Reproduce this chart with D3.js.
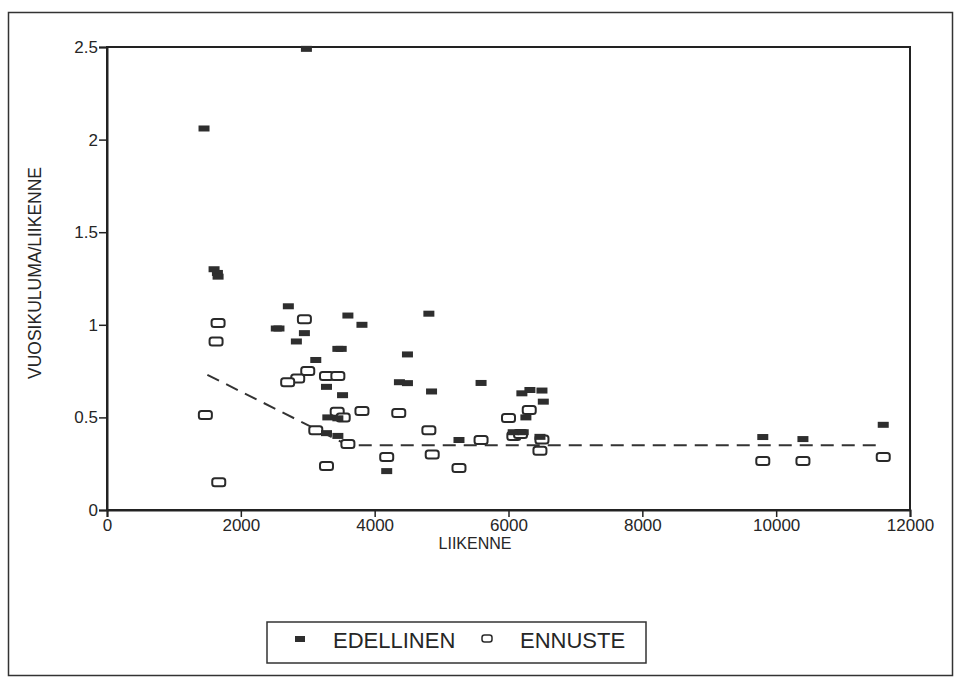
<!DOCTYPE html>
<html>
<head>
<meta charset="utf-8">
<script src="https://cdnjs.cloudflare.com/ajax/libs/d3/7.8.5/d3.min.js"></script>
<style>
    body { margin: 0; background: #fff; }
    .chart { width: 962px; height: 677px; }
    text { font-family: 'Liberation Sans', Arial, sans-serif; fill: #262626; }
</style>
</head>
<body>
<div class="chart"></div>
<script>
// edellinen = previous measurement, ennuste = forecast
const edellinen = [
    [1450, 2.06], [2980, 2.49], [1600, 1.30], [1650, 1.28], [1660, 1.26],
    [2710, 1.10], [2530, 0.98], [2570, 0.98], [2950, 0.955], [2830, 0.91],
    [3450, 0.87], [3500, 0.87], [3120, 0.81], [3600, 1.05], [3810, 1.00],
    [3280, 0.665], [3520, 0.62], [3300, 0.50], [3450, 0.495], [3280, 0.415],
    [3450, 0.40], [4180, 0.21], [4810, 1.06], [4490, 0.84], [4370, 0.69],
    [4490, 0.685], [4850, 0.64], [5590, 0.686], [5260, 0.378], [6200, 0.63],
    [6320, 0.648], [6500, 0.645], [6520, 0.585], [6260, 0.50], [6070, 0.42],
    [6220, 0.42], [6470, 0.395], [9800, 0.394], [10400, 0.383], [11600, 0.46]
];
const ennuste = [
    [1660, 1.01], [1630, 0.91], [1470, 0.513], [1670, 0.15], [2950, 1.03],
    [3000, 0.75], [2850, 0.71], [2700, 0.69], [3280, 0.723], [3450, 0.723],
    [3440, 0.53], [3530, 0.50], [3810, 0.535], [3120, 0.43], [3600, 0.356],
    [3280, 0.238], [4180, 0.286], [4360, 0.524], [4810, 0.43], [4860, 0.30],
    [5260, 0.227], [5590, 0.378], [6000, 0.497], [6310, 0.54], [6080, 0.40],
    [6180, 0.41], [6500, 0.38], [6470, 0.32], [9800, 0.265], [10400, 0.265],
    [11600, 0.286]
];
const trend = [[1500, 0.73], [3600, 0.35], [11560, 0.35]];
const xTicks = [0, 2000, 4000, 6000, 8000, 10000, 12000];
const yTicks = [0, 0.5, 1, 1.5, 2, 2.5];
const yTickLabels = ['0', '0.5', '1', '1.5', '2', '2.5'];

(function () {
    'use strict';

    const margin = { top: 47, left: 107, right: 52, bottom: 167 };
    const fullWidth = 962;
    const fullHeight = 677;
    const width = fullWidth - margin.left - margin.right;
    const height = fullHeight - margin.top - margin.bottom;

    const svg = d3.select('.chart').append('svg')
        .attr('width', fullWidth)
        .attr('height', fullHeight);

    // outer frame
    svg.append('rect')
        .attr('x', 8.5).attr('y', 12.5)
        .attr('width', 944).attr('height', 663)
        .attr('fill', 'none').attr('stroke', '#333').attr('stroke-width', 1.5);

    const holder = svg.append('g')
        .attr('transform', 'translate(' + margin.left + ', ' + margin.top + ')');

    const x = d3.scaleLinear().domain([0, 12000]).range([0, width]);
    const y = d3.scaleLinear().domain([0, 2.5]).range([height, 0]);

    holder.append('rect')
        .attr('width', width).attr('height', height)
        .attr('fill', 'none').attr('stroke', '#222').attr('stroke-width', 2);

    const xAxis = d3.axisBottom(x).tickValues(xTicks).tickSize(7).tickPadding(2)
        .tickFormat(d3.format('d'));
    const yAxis = d3.axisLeft(y).tickValues(yTicks).tickSize(8).tickPadding(1)
        .tickFormat(function (d, i) {
            return yTickLabels[i];
        });

    const styleAxis = function (g) {
        g.select('.domain').attr('stroke', '#222').attr('stroke-width', 2);
        g.selectAll('line').attr('stroke', '#222').attr('stroke-width', 1.5);
        g.selectAll('text').style('font-size', '17px').attr('fill', '#262626')
            .style('font-family', "'Liberation Sans', Arial, sans-serif");
    };

    holder.append('g').attr('transform', 'translate(0, ' + height + ')')
        .call(xAxis)
        .call(styleAxis);

    holder.append('g')
        .call(yAxis)
        .call(styleAxis);

    svg.append('text')
        .attr('x', 475).attr('y', 549)
        .attr('text-anchor', 'middle')
        .style('font-size', '16px')
        .text('LIIKENNE');

    svg.append('text')
        .attr('transform', 'translate(41, 273) rotate(-90)')
        .attr('text-anchor', 'middle')
        .style('font-size', '17.5px')
        .text('VUOSIKULUMA/LIIKENNE');

    // trend line
    const line = d3.line()
        .x(function (d) { return x(d[0]); })
        .y(function (d) { return y(d[1]); });

    holder.append('path').datum(trend)
        .attr('d', line)
        .attr('fill', 'none')
        .attr('stroke', '#333')
        .attr('stroke-width', 2)
        .attr('stroke-dasharray', '13,8');

    holder.append('g').selectAll('rect')
        .data(ennuste)
        .enter().append('rect')
        .attr('x', function (d) { return x(d[0]) - 6.5; })
        .attr('y', function (d) { return y(d[1]) - 4; })
        .attr('width', 13).attr('height', 8)
        .attr('rx', 2.5)
        .attr('fill', '#fff')
        .attr('stroke', '#2a2a2a')
        .attr('stroke-width', 2);

    holder.append('g').selectAll('rect')
        .data(edellinen)
        .enter().append('rect')
        .attr('x', function (d) { return x(d[0]) - 5.5; })
        .attr('y', function (d) { return y(d[1]) - 3; })
        .attr('width', 11).attr('height', 6)
        .attr('fill', '#2e2e2e');

    // legend
    const legend = svg.append('g').attr('transform', 'translate(267, 622)');

    legend.append('rect')
        .attr('width', 379).attr('height', 41)
        .attr('fill', '#fff').attr('stroke', '#333').attr('stroke-width', 1.5);

    legend.append('rect')
        .attr('x', 28).attr('y', 14).attr('width', 10).attr('height', 6)
        .attr('fill', '#2e2e2e');

    legend.append('text')
        .attr('x', 66).attr('y', 26)
        .style('font-size', '22px')
        .text('EDELLINEN');

    legend.append('rect')
        .attr('x', 215).attr('y', 13).attr('width', 10).attr('height', 7)
        .attr('rx', 2.5)
        .attr('fill', '#fff').attr('stroke', '#2a2a2a').attr('stroke-width', 1.5);

    legend.append('text')
        .attr('x', 253).attr('y', 26)
        .style('font-size', '22px')
        .text('ENNUSTE');
}());
</script>
</body>
</html>
